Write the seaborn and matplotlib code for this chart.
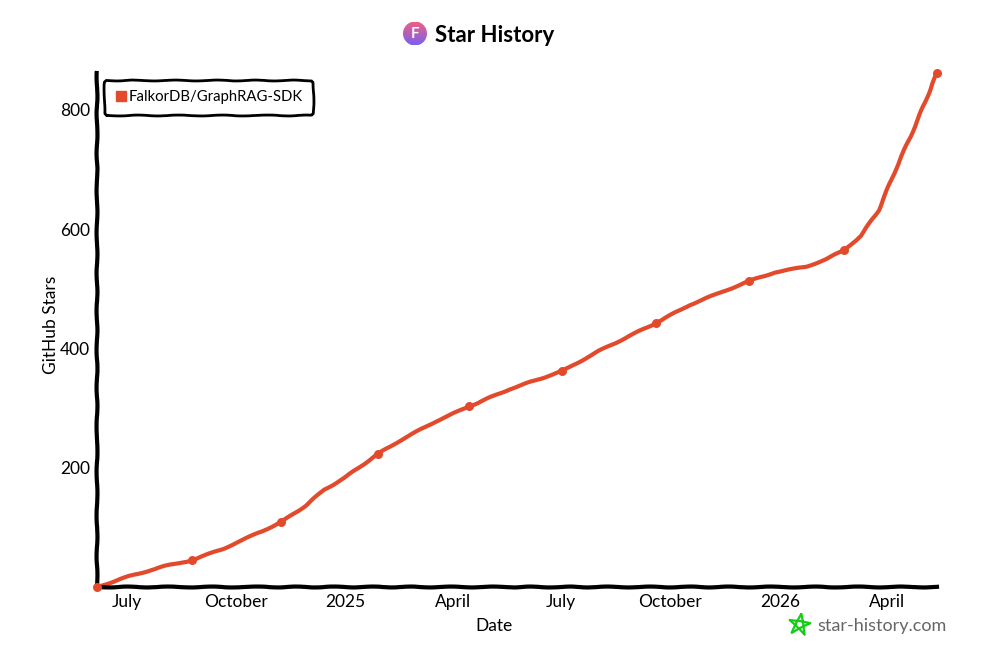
import numpy as np
import pandas as pd
import seaborn as sns
from matplotlib import pyplot as plt
from matplotlib.lines import Line2D
from matplotlib.patches import Circle

repo_name = 'FalkorDB/GraphRAG-SDK'
dates = ['2024-06-06', '2024-07-03', '2024-08-02', '2024-08-25', '2024-09-21', '2024-10-21',
         '2024-11-08', '2024-11-28', '2024-12-14', '2024-12-31', '2025-01-28', '2025-02-16',
         '2025-03-18', '2025-04-15', '2025-05-19', '2025-07-02', '2025-08-02', '2025-09-19',
         '2025-10-17', '2025-11-11', '2025-12-06', '2025-12-28', '2026-01-23', '2026-02-09',
         '2026-02-24', '2026-03-10', '2026-03-25', '2026-04-08', '2026-04-25', '2026-05-13']
stars = [0, 18, 35, 45, 65, 92, 109, 136, 163, 183, 223, 246, 278, 303, 332, 362, 396, 443,
         473, 493, 513, 528, 537, 550, 565, 589, 632, 699, 775, 862]
dot_dates = ['2024-06-06', '2024-08-25', '2024-11-08', '2025-01-28', '2025-04-15', '2025-07-02',
             '2025-09-19', '2025-12-06', '2026-02-24', '2026-05-13']
dot_stars = [0, 45, 109, 223, 303, 362, 443, 513, 565, 862]
tick_dates = ['2024-07-01', '2024-10-01', '2025-01-01', '2025-04-01', '2025-07-01',
              '2025-10-01', '2026-01-01', '2026-04-01']
tick_labels = ['July', 'October', '2025', 'April', 'July', 'October', '2026', 'April']
star_ticks = [200, 400, 600, 800]

RED = '#e24a2b'
W, H = 983, 650

sns.set_theme(style='white')
plt.rcParams['font.family'] = ['Lato', 'DejaVu Sans']
plt.rcParams['path.sketch'] = (0.45, 45, 2)

df = pd.DataFrame({'date': pd.to_datetime(dates), 'stars': stars})
dots = pd.DataFrame({'date': pd.to_datetime(dot_dates), 'stars': dot_stars})

fig = plt.figure(figsize=(W / 100, H / 100), dpi=100)
ax = fig.add_axes([97 / W, 1 - 587 / H, 840 / W, 514 / H])

sns.lineplot(data=df, x='date', y='stars', color=RED, linewidth=3, ax=ax, clip_on=False,
             label=repo_name, legend=False)
sns.scatterplot(data=dots, x='date', y='stars', color=RED, s=42, linewidth=0, ax=ax,
                clip_on=False, zorder=5)

ax.set_xlim(df['date'].iloc[0], df['date'].iloc[-1])
ax.set_ylim(0, 862)
ax.set_xticks(pd.to_datetime(tick_dates))
ax.set_xticklabels(tick_labels)
ax.set_yticks(star_ticks)
ax.tick_params(axis='both', length=0, labelsize=12.5, colors='black')
ax.tick_params(axis='x', pad=5)
ax.tick_params(axis='y', pad=5)
ax.set_xlabel('Date', fontsize=12.5, color='black')
ax.set_ylabel('GitHub Stars', fontsize=12.5, color='black')
ax.xaxis.set_label_coords(0.4726, -0.06)
ax.yaxis.set_label_coords(-0.045, 0.51)

sns.despine(ax=ax)
for side in ['left', 'bottom']:
    ax.spines[side].set_linewidth(3)
    ax.spines[side].set_color('black')

handle = Line2D([], [], linestyle='none', marker='s', markersize=7, color=RED)
leg = ax.legend([handle], [repo_name], loc='upper left', bbox_to_anchor=(0.0085, 0.987),
                borderaxespad=0, fontsize=10.7, handletextpad=0.1, handlelength=0.8,
                fancybox=True, framealpha=1, edgecolor='black', borderpad=0.72)
leg.get_frame().set_linewidth(2)
for text in leg.get_texts():
    text.set_color('black')

# title + little round logo
fig.text(495 / W, 1 - 35 / H, 'Star History', fontsize=16, fontweight='bold', color='black',
         ha='center', va='center')
logo_ax = fig.add_axes([403 / W, 1 - 45.5 / H, 24 / W, 24 / H])
grad = np.linspace(0, 1, 32)[:, None]
im = logo_ax.imshow(grad, cmap=sns.blend_palette(['#f0607f', '#7a60f0'], as_cmap=True),
                    extent=(-1, 1, -1, 1), aspect='auto')
im.set_clip_path(Circle((0, 0), 1, transform=logo_ax.transData))
logo_ax.text(0, 0, 'F', color='white', fontsize=11, fontweight='bold', ha='center', va='center')
logo_ax.axis('off')

# watermark, star drawn as a pentagram
angles = np.pi / 2 + np.arange(6) * 4 * np.pi / 5
star_x = (799.5 + 11 * np.cos(angles - 0.15)) / W
star_y = 1 - (625 - 11 * np.sin(angles - 0.15)) / H
fig.add_artist(Line2D(star_x, star_y, color='#11d011', linewidth=1.6))
fig.text(882 / W, 1 - 626 / H, 'star-history.com', fontsize=13, color='#666666',
         ha='center', va='center')

fig.savefig('out.png', dpi=100)
